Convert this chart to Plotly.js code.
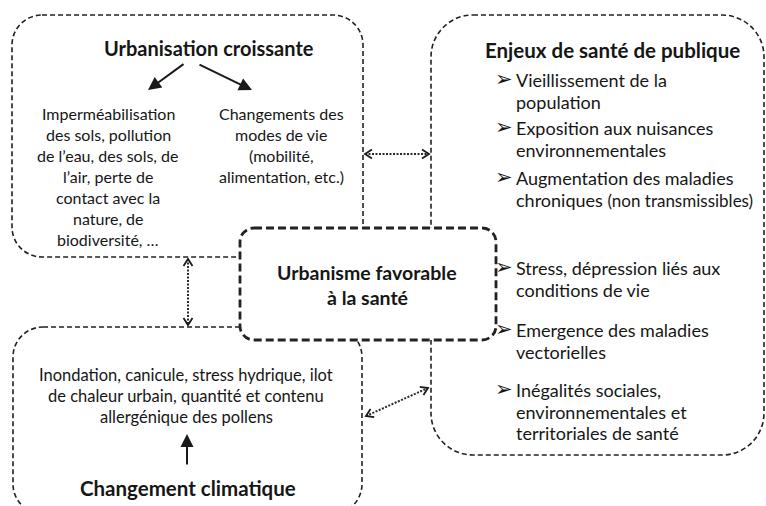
<!DOCTYPE html>
<html><head><meta charset="utf-8">
<script src="https://cdn.plot.ly/plotly-3.0.1.min.js"></script>
<style>html,body{margin:0;padding:0;background:#fff}#chart{width:766px;height:506px}</style>
</head><body><div id="chart"></div>
<script>
// ---- text content ----
const urbTitle = 'Urbanisation croissante';
const urbLeftLines = ['Imperméabilisation','des sols, pollution','de l’eau, des sols, de','l’air, perte de','contact avec la','nature, de','biodiversité, …'];
const urbRightLines = ['Changements des','modes de vie','(mobilité,','alimentation, etc.)'];
const enjeuxTitle = 'Enjeux de santé de publique';
const enjeuxItems = [
  ['Vieillissement de la','population'],
  ['Exposition aux nuisances','environnementales'],
  ['Augmentation des maladies','chroniques <span style="font-size:17px">(non transmissibles)</span>'],
  ['Stress, dépression liés aux','conditions de vie'],
  ['Emergence des maladies','vectorielles'],
  ['Inégalités sociales,','environnementales et','territoriales de santé']
];
const centreLines = ['Urbanisme favorable','à la santé'];
const climatLines = ['Inondation, canicule, stress hydrique, ilot','de chaleur urbain, quantité et contenu','allergénique des pollens'];
const climatTitle = 'Changement climatique';
const bulletGlyph = '➢';

// ---- layout (positions, sizes, styles) ----
const W = 766, H = 506;
const FONT = 'Lato, "Open Sans", sans-serif';
const INK = '#161616';
const LINE = '#222222';

function rr(x0, y0, x1, y1, r) {
  const k = 0.5523 * r;
  return `M${x0 + r},${y0} L${x1 - r},${y0} C${x1 - r + k},${y0} ${x1},${y0 + r - k} ${x1},${y0 + r} ` +
         `L${x1},${y1 - r} C${x1},${y1 - r + k} ${x1 - r + k},${y1} ${x1 - r},${y1} ` +
         `L${x0 + r},${y1} C${x0 + r - k},${y1} ${x0},${y1 - r + k} ${x0},${y1 - r} ` +
         `L${x0},${y0 + r} C${x0},${y0 + r - k} ${x0 + r - k},${y0} ${x0 + r},${y0} Z`;
}

const shapes = [];
const outerLine = {color: LINE, width: 1.6, dash: '5px,3px'};
shapes.push({type: 'path', xref: 'x', yref: 'y', path: rr(12, 15, 363, 257, 30), line: outerLine, layer: 'above'});
shapes.push({type: 'path', xref: 'x', yref: 'y', path: rr(431, 15, 764, 455, 42), line: outerLine, layer: 'above'});
shapes.push({type: 'path', xref: 'x', yref: 'y', path: rr(13, 327, 362, 514, 30), line: outerLine, layer: 'above'});
shapes.push({type: 'path', xref: 'x', yref: 'y', path: rr(240, 228, 496, 340, 14),
  line: {color: LINE, width: 2.8, dash: '8px,4px'}, fillcolor: '#ffffff', layer: 'above'});

// dotted double arrows
function dottedDouble(xa, ya, xb, yb) {
  shapes.push({type: 'line', xref: 'x', yref: 'y', x0: xa, y0: ya, x1: xb, y1: yb,
    line: {color: '#2a2a2a', width: 2, dash: '2px,1.5px'}, layer: 'above'});
  const head = (px, py, qx, qy) => {
    const dx = px - qx, dy = py - qy, L = Math.hypot(dx, dy);
    const ux = dx / L, uy = dy / L, nx = -uy, ny = ux;
    const len = 7, hw = 4.5;
    const bx = px - ux * len, by = py - uy * len;
    shapes.push({type: 'path', xref: 'x', yref: 'y',
      path: `M${bx + nx * hw},${by + ny * hw} L${px},${py} L${bx - nx * hw},${by - ny * hw}`,
      line: {color: '#1a1a1a', width: 1.8}, layer: 'above'});
  };
  head(xa, ya, xb, yb);
  head(xb, yb, xa, ya);
}
dottedDouble(365, 154, 429, 154);
dottedDouble(188, 259, 188, 325);
dottedDouble(366, 416, 428, 388);

const annotations = [];
function txt(text, x, y, size, opts = {}) {
  annotations.push(Object.assign({
    text: text, x: x, y: y, xref: 'x', yref: 'y', showarrow: false,
    xanchor: 'center', yanchor: 'middle', align: 'center',
    font: {family: FONT, size: size, color: INK}
  }, opts));
}
const bold = s => '<b>' + s + '</b>';

// Urbanisation box
txt(bold(urbTitle), 209, 48, 20);
urbLeftLines.forEach((s, i) => txt(s, 108, 113 + i * 21, 16));
urbRightLines.forEach((s, i) => txt(s, 281, 113 + i * 21, 16));

// Enjeux box
txt(bold(enjeuxTitle), 612, 50, 20.5);
const itemY = [80, 128, 178, 268, 330, 390];
enjeuxItems.forEach((lines, i) => {
  txt(bulletGlyph, 504, itemY[i] - 1, 21, {font: {family: 'DejaVu Sans', size: 21, color: INK}});
  lines.forEach((s, j) => txt(s, 514, itemY[i] + j * 21.5, 18, {xanchor: 'left', align: 'left'}));
});

// Centre
centreLines.forEach((s, i) => txt(bold(s), 367, 272 + i * 25, 19.5));

// Climat box
climatLines.forEach((s, i) => txt(s, 186, 375 + i * 21, 16.5));
txt(bold(climatTitle), 188, 488, 20.5);

// solid arrows
function solidArrow(xt, yt, xh, yh) {
  annotations.push({x: xh, y: yh, ax: xt, ay: yt, xref: 'x', yref: 'y', axref: 'x', ayref: 'y',
    text: '', showarrow: true, arrowhead: 2, arrowsize: 1.3, arrowwidth: 2, arrowcolor: '#1a1a1a', standoff: 0});
}
solidArrow(185, 63, 148, 90);
solidArrow(198, 64, 252, 90);
solidArrow(187, 466, 187, 434);

const layout = {
  width: W, height: H,
  margin: {l: 0, r: 0, t: 0, b: 0},
  paper_bgcolor: '#ffffff', plot_bgcolor: '#ffffff',
  xaxis: {range: [0, W], visible: false, fixedrange: true},
  yaxis: {range: [H, 0], visible: false, fixedrange: true},
  showlegend: false,
  shapes: shapes,
  annotations: annotations
};
Plotly.newPlot('chart', [], layout, {staticPlot: true, displayModeBar: false});
</script></body></html>
